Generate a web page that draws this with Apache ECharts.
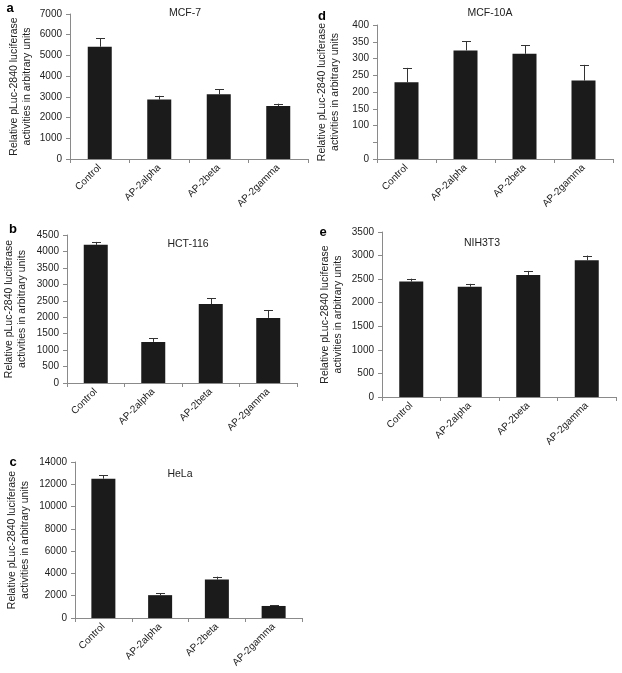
<!DOCTYPE html>
<html>
<head>
<meta charset="utf-8">
<script src="https://cdn.jsdelivr.net/npm/echarts@6/dist/echarts.min.js"></script>
<style>
html,body{margin:0;padding:0;background:#fff;}
#chart{width:622px;height:673px;}
</style>
</head>
<body>
<div id="chart"></div>
<script>
const categories = ['Control', 'AP-2alpha', 'AP-2beta', 'AP-2gamma'];

const mcf7Values = [5420, 2870, 3120, 2560];
const mcf7Errors = [400, 180, 240, 110];

const hct116Values = [4200, 1250, 2400, 1980];
const hct116Errors = [90, 110, 170, 240];

const helaValues = [12500, 2050, 3450, 1080];
const helaErrors = [300, 170, 260, 60];

const mcf10aValues = [229, 324, 314, 234];
const mcf10aErrors = [43, 28, 26, 47];

const nih3t3Values = [2450, 2340, 2590, 2900];
const nih3t3Errors = [60, 60, 85, 100];

const panelTitles = ['MCF-7', 'HCT-116', 'HeLa', 'MCF-10A', 'NIH3T3'];
const panelLetters = ['a', 'b', 'c', 'd', 'e'];
const yMax = [7000, 4500, 14000, 400, 3500];
const yStep = [1000, 500, 2000, 50, 500];
const hiddenTickLabels = [[], [], [], [50], []];
const yTitle = 'Relative pLuc-2840 luciferase\nactivities in arbitrary units';

const panelValues = [mcf7Values, hct116Values, helaValues, mcf10aValues, nih3t3Values];
const panelErrors = [mcf7Errors, hct116Errors, helaErrors, mcf10aErrors, nih3t3Errors];

// layout
const grids = [
  {left: 70, top: 14, width: 238, height: 145},
  {left: 67, top: 235, width: 230, height: 148},
  {left: 75, top: 462, width: 227, height: 156},
  {left: 377, top: 25, width: 236, height: 134},
  {left: 382, top: 232, width: 234, height: 165}
];
const nameGaps = [36, 38, 43, 35, 37];
const titlePos = [[185, 13], [188, 244], [180, 474], [490, 13], [482, 243]];
const letterPos = [[10, 8], [13, 229], [13, 462], [322, 16], [323, 232]];

const FONT = '"Liberation Sans", Arial, sans-serif';
const TEXT = '#222';
const AXIS = '#8a8a8a';

const option = {
  animation: false,
  backgroundColor: '#fff',
  textStyle: {fontFamily: FONT},
  grid: grids.map(g => Object.assign({containLabel: false}, g)),
  xAxis: grids.map((g, i) => ({
    type: 'category',
    gridIndex: i,
    data: categories,
    boundaryGap: true,
    axisLine: {lineStyle: {color: AXIS, width: 1}},
    axisTick: {show: true, length: 4, lineStyle: {color: AXIS}},
    axisLabel: {rotate: 45, interval: 0, fontSize: 10, color: TEXT, fontFamily: FONT, margin: 7}
  })),
  yAxis: grids.map((g, i) => ({
    type: 'value',
    gridIndex: i,
    min: 0,
    max: yMax[i],
    interval: yStep[i],
    name: yTitle,
    nameLocation: 'middle',
    nameGap: nameGaps[i],
    nameTextStyle: {fontSize: 10.5, color: TEXT, fontFamily: FONT, lineHeight: 13, align: 'center'},
    axisLine: {show: true, lineStyle: {color: AXIS, width: 1}},
    axisTick: {show: true, length: 4, lineStyle: {color: AXIS}},
    splitLine: {show: false},
    axisLabel: {
      fontSize: 10, color: TEXT, fontFamily: FONT, margin: 8,
      formatter: v => hiddenTickLabels[i].includes(v) ? '' : String(v)
    }
  })),
  series: []
};

panelValues.forEach((vals, i) => {
  option.series.push({
    type: 'bar',
    xAxisIndex: i,
    yAxisIndex: i,
    data: vals,
    barWidth: 24,
    itemStyle: {color: '#1b1b1b'},
    z: 2
  });
  option.series.push({
    type: 'custom',
    xAxisIndex: i,
    yAxisIndex: i,
    z: 3,
    encode: {x: 0, y: 1},
    data: vals.map((v, k) => [k, v, panelErrors[i][k]]),
    renderItem: function (params, api) {
      const x = api.value(0), v = api.value(1), e = api.value(2);
      const p0 = api.coord([x, v]);
      const p1 = api.coord([x, v + e]);
      const cx = Math.round(p0[0]) + 0.5;
      const style = {stroke: '#333', lineWidth: 1};
      return {
        type: 'group',
        children: [
          {type: 'line', shape: {x1: cx, y1: p0[1], x2: cx, y2: p1[1]}, style: style},
          {type: 'line', shape: {x1: cx - 4.5, y1: Math.round(p1[1]) + 0.5, x2: cx + 4.5, y2: Math.round(p1[1]) + 0.5}, style: style}
        ]
      };
    }
  });
});

option.graphic = [];
panelTitles.forEach((t, i) => {
  option.graphic.push({
    type: 'text',
    style: {x: titlePos[i][0], y: titlePos[i][1], text: t, fill: TEXT, font: '10.5px ' + FONT, textAlign: 'center', textVerticalAlign: 'middle'}
  });
  option.graphic.push({
    type: 'text',
    style: {x: letterPos[i][0], y: letterPos[i][1], text: panelLetters[i], fill: '#000', font: 'bold 13px ' + FONT, textAlign: 'center', textVerticalAlign: 'middle'}
  });
});

const chart = echarts.init(document.getElementById('chart'), null, {renderer: 'canvas'});
chart.setOption(option);
</script>
</body>
</html>
